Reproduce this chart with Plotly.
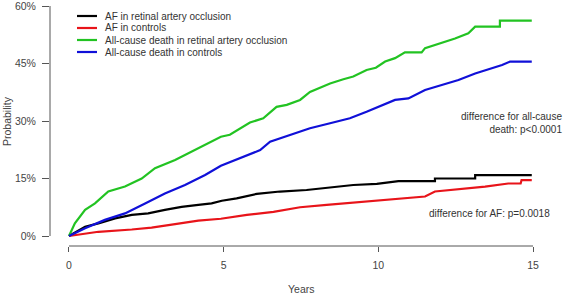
import plotly.graph_objects as go

# ---- data ----
series_names = [
    "AF in retinal artery occlusion",
    "AF in controls",
    "All-cause death in retinal artery occlusion",
    "All-cause death in controls",
]
series_colors = ["#000000", "#e8141a", "#22c322", "#1010d8"]

af_rao_years = [0, 0.52, 0.95, 1.49, 2.03, 2.56, 3.10, 3.64, 4.18, 4.61, 4.94, 5.42, 6.07, 6.82,
                7.68, 8.44, 9.19, 9.95, 10.32, 10.65, 11.83, 11.83, 13.13, 13.13, 14.96]
af_rao_vals = [0, 2.4, 3.3, 4.6, 5.5, 5.9, 6.8, 7.6, 8.1, 8.5, 9.2, 9.8, 11.0, 11.6,
               12.0, 12.7, 13.3, 13.6, 14.0, 14.3, 14.3, 15.0, 15.0, 15.9, 15.9]

af_ctrl_years = [0, 0.95, 2.03, 2.67, 3.43, 4.18, 4.91, 5.75, 6.61, 7.47, 8.33, 9.19, 9.92,
                 10.54, 11.19, 11.51, 11.83, 12.59, 13.45, 14.20, 14.60, 14.63, 14.96]
af_ctrl_vals = [0, 1.1, 1.7, 2.2, 3.1, 4.0, 4.5, 5.5, 6.3, 7.5, 8.1, 8.7, 9.2,
                9.8, 10.1, 10.3, 11.6, 12.2, 12.9, 13.7, 13.7, 14.6, 14.6]

death_rao_years = [0, 0.19, 0.52, 0.84, 1.27, 1.81, 2.35, 2.78, 3.43, 3.97, 4.50, 4.91, 5.20,
                   5.53, 5.85, 6.28, 6.71, 7.04, 7.47, 7.79, 8.22, 8.44, 8.87, 9.19, 9.62,
                   9.92, 10.22, 10.54, 10.86, 11.40, 11.51, 12.05, 12.48, 12.91, 13.13,
                   13.93, 13.93, 14.96]
death_rao_vals = [0, 3.3, 6.8, 8.5, 11.6, 12.9, 15.0, 17.7, 19.8, 22.0, 24.2, 25.9, 26.4,
                  28.1, 29.6, 30.7, 33.7, 34.2, 35.5, 37.6, 39.0, 39.8, 40.9, 41.6, 43.3,
                  43.9, 45.5, 46.4, 47.9, 47.9, 49.0, 50.3, 51.5, 52.9, 54.6,
                  54.6, 56.2, 56.2]

death_ctrl_years = [0, 0.52, 1.16, 1.81, 2.46, 3.10, 3.75, 4.40, 4.91, 5.53, 6.18, 6.50,
                    7.14, 7.79, 8.44, 9.08, 9.62, 9.95, 10.54, 10.97, 11.51, 12.05, 12.59,
                    13.13, 13.67, 14.00, 14.26, 14.96]
death_ctrl_vals = [0, 2.0, 4.2, 5.9, 8.5, 11.1, 13.3, 15.9, 18.3, 20.3, 22.4, 24.6,
                   26.4, 28.1, 29.4, 30.7, 32.4, 33.5, 35.5, 35.9, 38.1, 39.4, 40.7,
                   42.4, 43.7, 44.6, 45.5, 45.5]

x_ticks = [0, 5, 10, 15]
y_ticks = [0, 15, 30, 45, 60]
y_tick_labels = ["0%", "15%", "30%", "45%", "60%"]

x_title = "Years"
y_title = "Probability"
note_death = "difference for all-cause<br>death: p&lt;0.0001"
note_af = "difference for AF: p=0.0018"

# ---- figure ----
FONT = "Liberation Sans, Arial, sans-serif"
AXIS_COLOR = "#555555"
TEXT_COLOR = "#444444"

xs = [af_rao_years, af_ctrl_years, death_rao_years, death_ctrl_years]
ys = [af_rao_vals, af_ctrl_vals, death_rao_vals, death_ctrl_vals]

fig = go.Figure()
for name, color, x, y in zip(series_names, series_colors, xs, ys):
    fig.add_trace(go.Scatter(x=x, y=y, mode="lines", name=name,
                             line=dict(color=color, width=2.2), showlegend=False))

W, H = 567, 296
ml, mr, mt, mb = 50, 15, 0, 50
pw, ph = W - ml - mr, H - mt - mb

fig.update_layout(
    width=W, height=H,
    margin=dict(l=ml, r=mr, t=mt, b=mb, pad=0),
    plot_bgcolor="white", paper_bgcolor="white",
    font=dict(family=FONT, size=10.5, color=TEXT_COLOR),
    xaxis=dict(range=[-0.614, 15.614], tickvals=x_ticks, ticks="outside", ticklen=5,
               tickcolor=AXIS_COLOR, tickwidth=1, showgrid=False, zeroline=False,
               showline=False, tickfont=dict(size=10.5, color=TEXT_COLOR),
               ticklabelstandoff=4, ticklabeloverflow="allow"),
    yaxis=dict(range=[-2.609, 61.565], tickvals=y_ticks, ticktext=y_tick_labels,
               ticks="outside", ticklen=7, tickcolor=AXIS_COLOR, tickwidth=1,
               showgrid=False, zeroline=False, showline=False,
               tickfont=dict(size=10.5, color=TEXT_COLOR), ticklabelstandoff=4,
               ticklabeloverflow="allow"),
    showlegend=False,
)

# axis lines in R style (spanning first to last tick)
fig.add_shape(type="line", xref="paper", yref="y", x0=0, x1=0,
              y0=y_ticks[0], y1=y_ticks[-1], line=dict(color=AXIS_COLOR, width=1))
fig.add_shape(type="line", xref="x", yref="paper", x0=x_ticks[0], x1=x_ticks[-1],
              y0=0, y1=0, line=dict(color=AXIS_COLOR, width=1))

def px_x(p):
    return (p - ml) / pw

def px_y(p):
    return 1 - (p - mt) / ph

# axis titles
fig.add_annotation(text=x_title, xref="x", yref="paper", x=7.5, y=px_y(289),
                   showarrow=False, font=dict(size=10.5, color=TEXT_COLOR),
                   xanchor="center", yanchor="middle")
fig.add_annotation(text=y_title, xref="paper", yref="y", x=px_x(7), y=30,
                   textangle=-90, showarrow=False,
                   font=dict(size=10.5, color=TEXT_COLOR),
                   xanchor="center", yanchor="middle")

# legend (drawn manually to match compact row spacing)
rows = [16, 28, 40, 52]
for name, color, r in zip(series_names, series_colors, rows):
    fig.add_shape(type="line", xref="paper", yref="paper",
                  x0=px_x(77), x1=px_x(97), y0=px_y(r), y1=px_y(r),
                  line=dict(color=color, width=2.2))
    fig.add_annotation(text=name, xref="paper", yref="paper", x=px_x(103), y=px_y(r),
                       xanchor="left", yanchor="middle", showarrow=False,
                       font=dict(size=10, color="#333333"))

# p-value notes
fig.add_annotation(text=note_death, xref="paper", yref="paper", x=px_x(564),
                   y=px_y(122.5), xanchor="right", yanchor="middle", align="right",
                   showarrow=False, font=dict(size=10, color="#333333"))
fig.add_annotation(text=note_af, xref="paper", yref="paper", x=px_x(552),
                   y=px_y(213), xanchor="right", yanchor="middle", align="right",
                   showarrow=False, font=dict(size=10, color="#333333"))

fig.write_html("out.html", config={"displayModeBar": False, "staticPlot": True})

# remove default page margin so the figure sits at the window's top-left corner
with open("out.html", "r", encoding="utf-8") as f:
    html = f.read()
html = html.replace("<head>", "<head><style>html,body{margin:0;padding:0;overflow:hidden;}</style>", 1)
with open("out.html", "w", encoding="utf-8") as f:
    f.write(html)
